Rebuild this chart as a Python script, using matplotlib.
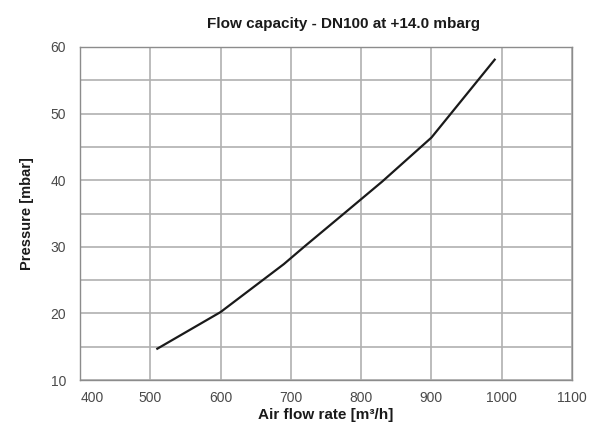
import numpy as np
import matplotlib
matplotlib.use("Agg")
import matplotlib.pyplot as plt
import matplotlib.transforms as mtransforms

# curve
flow = [510, 600, 690, 720, 770, 830, 900, 990]        # m3/h
pressure = [14.7, 20.2, 27.4, 30.1, 34.5, 39.8, 46.4, 58.1]  # mbar

x_ticks = [400, 500, 600, 700, 800, 900, 1000, 1100]
y_ticks = [10, 20, 30, 40, 50, 60]

plt.rcParams['font.family'] = ['Liberation Sans', 'DejaVu Sans']

fig = plt.figure(figsize=(5.96, 4.28), dpi=100)
ax = fig.add_axes([80/596, 1 - 380/428, 492/596, 333/428])

ax.plot(flow, pressure, color='#1a1a1a', linewidth=1.6)

ax.set_xlim(400, 1100)
ax.set_ylim(10, 60)
ax.set_xticks(x_ticks)
ax.set_yticks(y_ticks)
ax.set_yticks(np.arange(15, 60, 10), minor=True)
ax.grid(True, which='both', color='#b0b0b0', linewidth=1.2)
ax.set_axisbelow(True)
ax.tick_params(which='both', length=0, labelsize=10, labelcolor='#4a4a4a')
ax.tick_params(axis='x', pad=8)
ax.tick_params(axis='y', pad=10)

# first x label sits a bit right of its tick, clear of the y axis labels
fig.canvas.draw()
first = ax.get_xticklabels()[0]
first.set_transform(first.get_transform() +
                    mtransforms.ScaledTranslation(12/100, 0, fig.dpi_scale_trans))

for s in ax.spines.values():
    s.set_color('#8c8c8c')
    s.set_linewidth(1.0)

ax.set_title('Flow capacity - DN100 at +14.0 mbarg', fontsize=11, fontweight='bold',
             color='#1a1a1a', pad=14, x=0.535)
ax.set_xlabel('Air flow rate [m³/h]', fontsize=11, fontweight='bold', color='#1a1a1a', labelpad=2)
ax.set_ylabel('Pressure [mbar]', fontsize=10.5, fontweight='bold', color='#1a1a1a', labelpad=12)

fig.savefig('out.png', dpi=100)
